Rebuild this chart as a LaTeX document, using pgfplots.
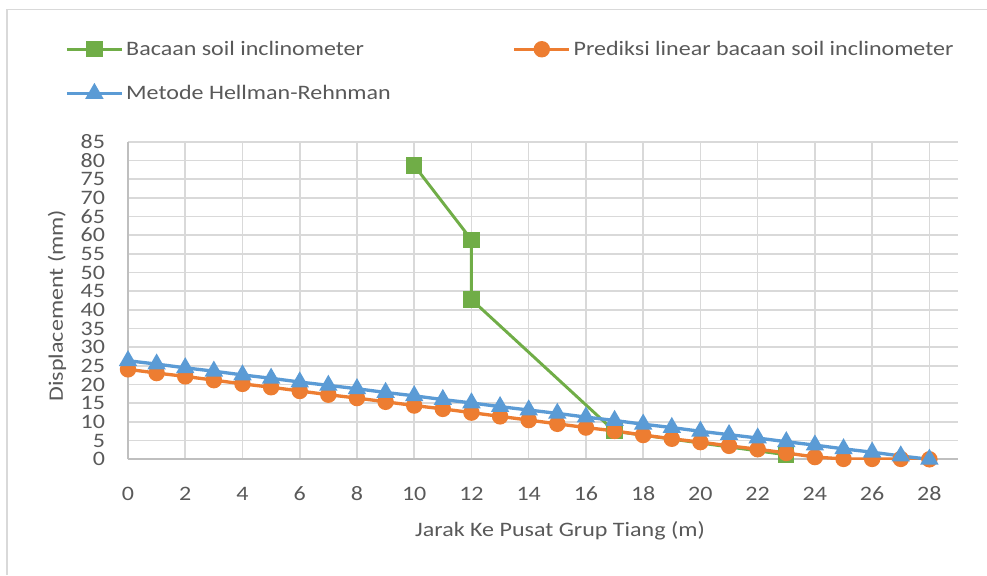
\documentclass[border=0pt]{standalone}
\usepackage{fontspec}
\setmainfont{Carlito}[FakeStretch=1.17]
\usepackage{pgfplots}
\pgfplotsset{compat=1.18}
\definecolor{cgreen}{HTML}{70AD47}
\definecolor{corange}{HTML}{ED7D31}
\definecolor{cblue}{HTML}{5B9BD5}
\definecolor{cgrid}{HTML}{D9D9D9}
\definecolor{ctext}{HTML}{595959}
\definecolor{caxis}{HTML}{BFBFBF}
\newcommand{\lfont}{\fontsize{15.4}{18.5}\selectfont}
\begin{document}
\begin{tikzpicture}
\useasboundingbox (0,0) rectangle (740.25pt,431.25pt);
\draw[cgrid, line width=1.2pt] (5.25pt,0) -- (5.25pt,424.1pt) -- (740.25pt,424.1pt);
\begin{axis}[
  at={(96pt,86.78pt)}, anchor=south west,
  scale only axis, width=622.5pt, height=238pt,
  xmin=0, xmax=29, ymin=0, ymax=85,
  xtick={0,2,...,28}, ytick={0,5,...,85},
  grid=major, grid style={cgrid, line width=1.2pt},
  axis lines*=left,
  axis line style={caxis, line width=1.2pt},
  major tick length=0pt,
  /pgf/number format/assume math mode=true,
  tick label style={font=\lfont, text=ctext},
  yticklabel style={anchor=east, inner sep=0pt, xshift=-17pt, text height=10pt, text depth=0pt},
  xticklabel style={anchor=north, inner sep=0pt, yshift=-20.5pt},
  xlabel={Jarak Ke Pusat Grup Tiang (m)},
  ylabel={Displacement (mm)},
  every axis x label/.style={at={(axis description cs:0.5,0)}, anchor=center, yshift=-53.8pt, xshift=12.75pt, font=\lfont, text=ctext},
  every axis y label/.style={at={(axis description cs:0,0.5)}, anchor=center, rotate=90, yshift=53.25pt, xshift=-3.75pt, font=\lfont, text=ctext},
  legend columns=2,
  legend cell align=left,
  legend style={at={(axis description cs:-0.0759,1.327)}, anchor=north west, draw=none, fill=none,
    inner sep=0pt, font=\lfont, text=ctext, row sep=17pt,
    /tikz/every even column/.append style={column sep=89.4pt}},
  legend image code/.code={\draw[mark repeat=2,mark phase=2] plot coordinates {(0pt,0pt)(20.6pt,0pt)(41.2pt,0pt)};},
]
\addplot[cgreen, line width=2.2pt, mark=square*, mark size=5pt, mark options={solid}] coordinates {
(10,78.7) (12,58.8) (12,42.8) (17,7.5) (23,1.2)
};
\addlegendentry{Bacaan soil inclinometer}
\addplot[corange, line width=2.5pt, mark=*, mark size=4.9pt] coordinates {
(0,24.1) (1,23.1) (2,22.2) (3,21.2) (4,20.2) (5,19.3) (6,18.3) (7,17.3) (8,16.4) (9,15.4)
(10,14.4) (11,13.5) (12,12.5) (13,11.5) (14,10.5) (15,9.5) (16,8.5) (17,7.6) (18,6.5) (19,5.5)
(20,4.6) (21,3.6) (22,2.7) (23,1.7) (24,0.6) (25,0.1) (26,0.1) (27,0.1) (28,0)
};
\addlegendentry{Prediksi linear bacaan soil inclinometer}
\addplot[cblue, line width=2.5pt, mark=triangle*, mark size=5.5pt] coordinates {
(0,26.4) (1,25.5) (2,24.5) (3,23.6) (4,22.6) (5,21.7) (6,20.7) (7,19.8) (8,18.9) (9,17.9)
(10,17.0) (11,16.0) (12,15.1) (13,14.1) (14,13.2) (15,12.3) (16,11.3) (17,10.4) (18,9.4) (19,8.5)
(20,7.5) (21,6.6) (22,5.7) (23,4.7) (24,3.8) (25,2.8) (26,1.9) (27,0.9) (28,0)
};
\addlegendentry{Metode Hellman-Rehnman}
\end{axis}
\end{tikzpicture}
\end{document}
